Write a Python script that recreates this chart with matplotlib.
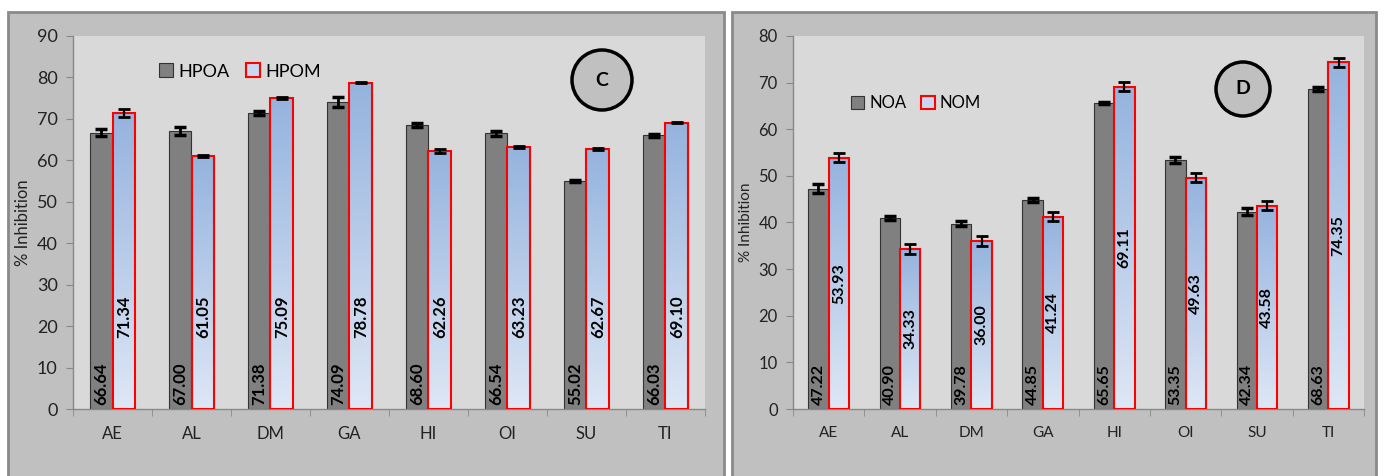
import numpy as np
import matplotlib
matplotlib.use("Agg")
import matplotlib.pyplot as plt
from matplotlib.patches import Rectangle, Ellipse, Patch

plt.rcParams['font.family'] = ['Lato', 'DejaVu Sans']

categories = ["AE", "AL", "DM", "GA", "HI", "OI", "SU", "TI"]

# Panel C
hpoa = [66.64, 67.00, 71.38, 74.09, 68.60, 66.54, 55.02, 66.03]
hpoa_err = [0.8, 1.0, 0.5, 1.2, 0.5, 0.6, 0.2, 0.3]
hpom = [71.34, 61.05, 75.09, 78.78, 62.26, 63.23, 62.67, 69.10]
hpom_err = [1.0, 0.2, 0.3, 0.2, 0.5, 0.3, 0.2, 0.2]

# Panel D
noa = [47.22, 40.90, 39.78, 44.85, 65.65, 53.35, 42.34, 68.63]
noa_err = [1.0, 0.4, 0.5, 0.4, 0.3, 0.6, 0.8, 0.5]
nom = [53.93, 34.33, 36.00, 41.24, 69.11, 49.63, 43.58, 74.35]
nom_err = [1.0, 1.0, 1.0, 1.0, 1.0, 1.0, 1.0, 1.0]

W, H = 1384, 476
fig = plt.figure(figsize=(W / 100, H / 100), dpi=100)
fig.patch.set_facecolor("white")

def px_rect(x0, y0, x1, y1):
    return [x0 / W, 1 - y1 / H, (x1 - x0) / W, (y1 - y0) / H]

# outer panels
for (x0, x1) in [(8, 724), (732, 1376)]:
    fig.patches.append(Rectangle((x0 / W, -0.02), (x1 - x0) / W, 1 - 12 / H + 0.02,
                                 transform=fig.transFigure, facecolor="#c0c0c0",
                                 edgecolor="#8a8a8a", linewidth=2, zorder=-10))

top_c = np.array([149, 179, 222]) / 255
bot_c = np.array([222, 231, 245]) / 255
grad = np.linspace(0, 1, 256)[:, None, None] * (top_c - bot_c)[None, None, :] + bot_c[None, None, :]
grad = grad[::-1]  # top row = top color


def panel(rect, a_vals, a_err, m_vals, m_err, names, ymax, tick_fs, label_fs,
          legend_anchor, circ_px, circ_r, letter, m_label_y=None):
    ax = fig.add_axes(rect)
    ax.set_zorder(1)
    ax.set_facecolor("#d9d9d9")
    x = np.arange(len(categories))
    bw = 0.286
    ax.bar(x - bw / 2, a_vals, bw, color="#808080", edgecolor="#333333", linewidth=0.8, zorder=2)
    bm = ax.bar(x + bw / 2, m_vals, bw, color="none", edgecolor="#ff0000", linewidth=1.5, zorder=4)
    for r in bm:
        im = ax.imshow(grad, extent=[r.get_x(), r.get_x() + r.get_width(), 0, r.get_height()],
                       aspect="auto", zorder=3, origin="upper")
        im.set_clip_path(r)
    ax.errorbar(x - bw / 2, a_vals, yerr=a_err, fmt="none", ecolor="black",
                elinewidth=2, capsize=4, capthick=2.5, zorder=5)
    ax.errorbar(x + bw / 2, m_vals, yerr=m_err, fmt="none", ecolor="black",
                elinewidth=1.6, capsize=4, capthick=2, zorder=5)
    ax.set_xlim(-0.5, len(categories) - 0.5)
    ax.set_ylim(0, ymax)
    ax.set_yticks(np.arange(0, ymax + 1, 10))
    ax.tick_params(axis="y", direction="out", length=5, color="#888888", labelsize=tick_fs,
                   labelcolor="#222222", pad=6)
    ax.set_xticks(x)
    ax.set_xticklabels(categories)
    ax.tick_params(axis="x", length=0, labelsize=tick_fs - 1, labelcolor="#222222", pad=12)
    ax.set_xticks(np.arange(-0.5, len(categories)), minor=True)
    ax.tick_params(axis="x", which="minor", direction="out", length=5, color="#888888")
    for s in ["top", "right"]:
        ax.spines[s].set_visible(False)
    for s in ["left", "bottom"]:
        ax.spines[s].set_color("#888888")
        ax.spines[s].set_linewidth(1)
    ax.set_ylabel("% Inhibition", fontsize=tick_fs - 1, color="#222222", labelpad=4)
    for xi, v in zip(x, a_vals):
        ax.text(xi - bw / 2, ymax * 0.012, f"{v:.2f}", rotation=90, ha="center", va="bottom",
                fontsize=label_fs, fontweight="bold", color="black", zorder=6)
    for xi, v in zip(x, m_vals):
        yc = m_label_y if m_label_y is not None else v / 2
        ax.text(xi + bw / 2, yc, f"{v:.2f}", rotation=90, ha="center", va="center",
                fontsize=label_fs, fontweight="bold", color="black", zorder=6)
    handles = [Patch(facecolor="#808080", edgecolor="#333333", linewidth=0.8),
               Patch(facecolor="#c6d9f0", edgecolor="#ff0000", linewidth=1.5)]
    ax.legend(handles, names, ncol=2, frameon=False, loc="center left",
              bbox_to_anchor=legend_anchor, handlelength=0.8, handleheight=0.8,
              handletextpad=0.3, columnspacing=0.9, fontsize=tick_fs)
    cx, cy = circ_px
    circ = Ellipse((cx / W, 1 - cy / H), 2 * circ_r / W, 2 * circ_r / H,
                   transform=fig.transFigure, facecolor="#c0c0c0",
                   edgecolor="black", linewidth=2.5, zorder=10)
    fig.patches.append(circ)
    fig.text(cx / W, 1 - cy / H, letter, ha="center", va="center", fontsize=14,
             fontweight="bold", zorder=11)
    return ax


panel(px_rect(73, 36, 705, 409), hpoa, hpoa_err, hpom, hpom_err, ["HPOA", "HPOM"], 90,
      13, 12, (0.11, 0.905), (602, 80), 30, "C", m_label_y=22.2)
panel(px_rect(793, 36, 1364, 409), noa, noa_err, nom, nom_err, ["NOA", "NOM"], 80,
      12, 11.5, (0.075, 0.82), (1243, 89), 27, "D")

fig.savefig("out.png", dpi=100)
